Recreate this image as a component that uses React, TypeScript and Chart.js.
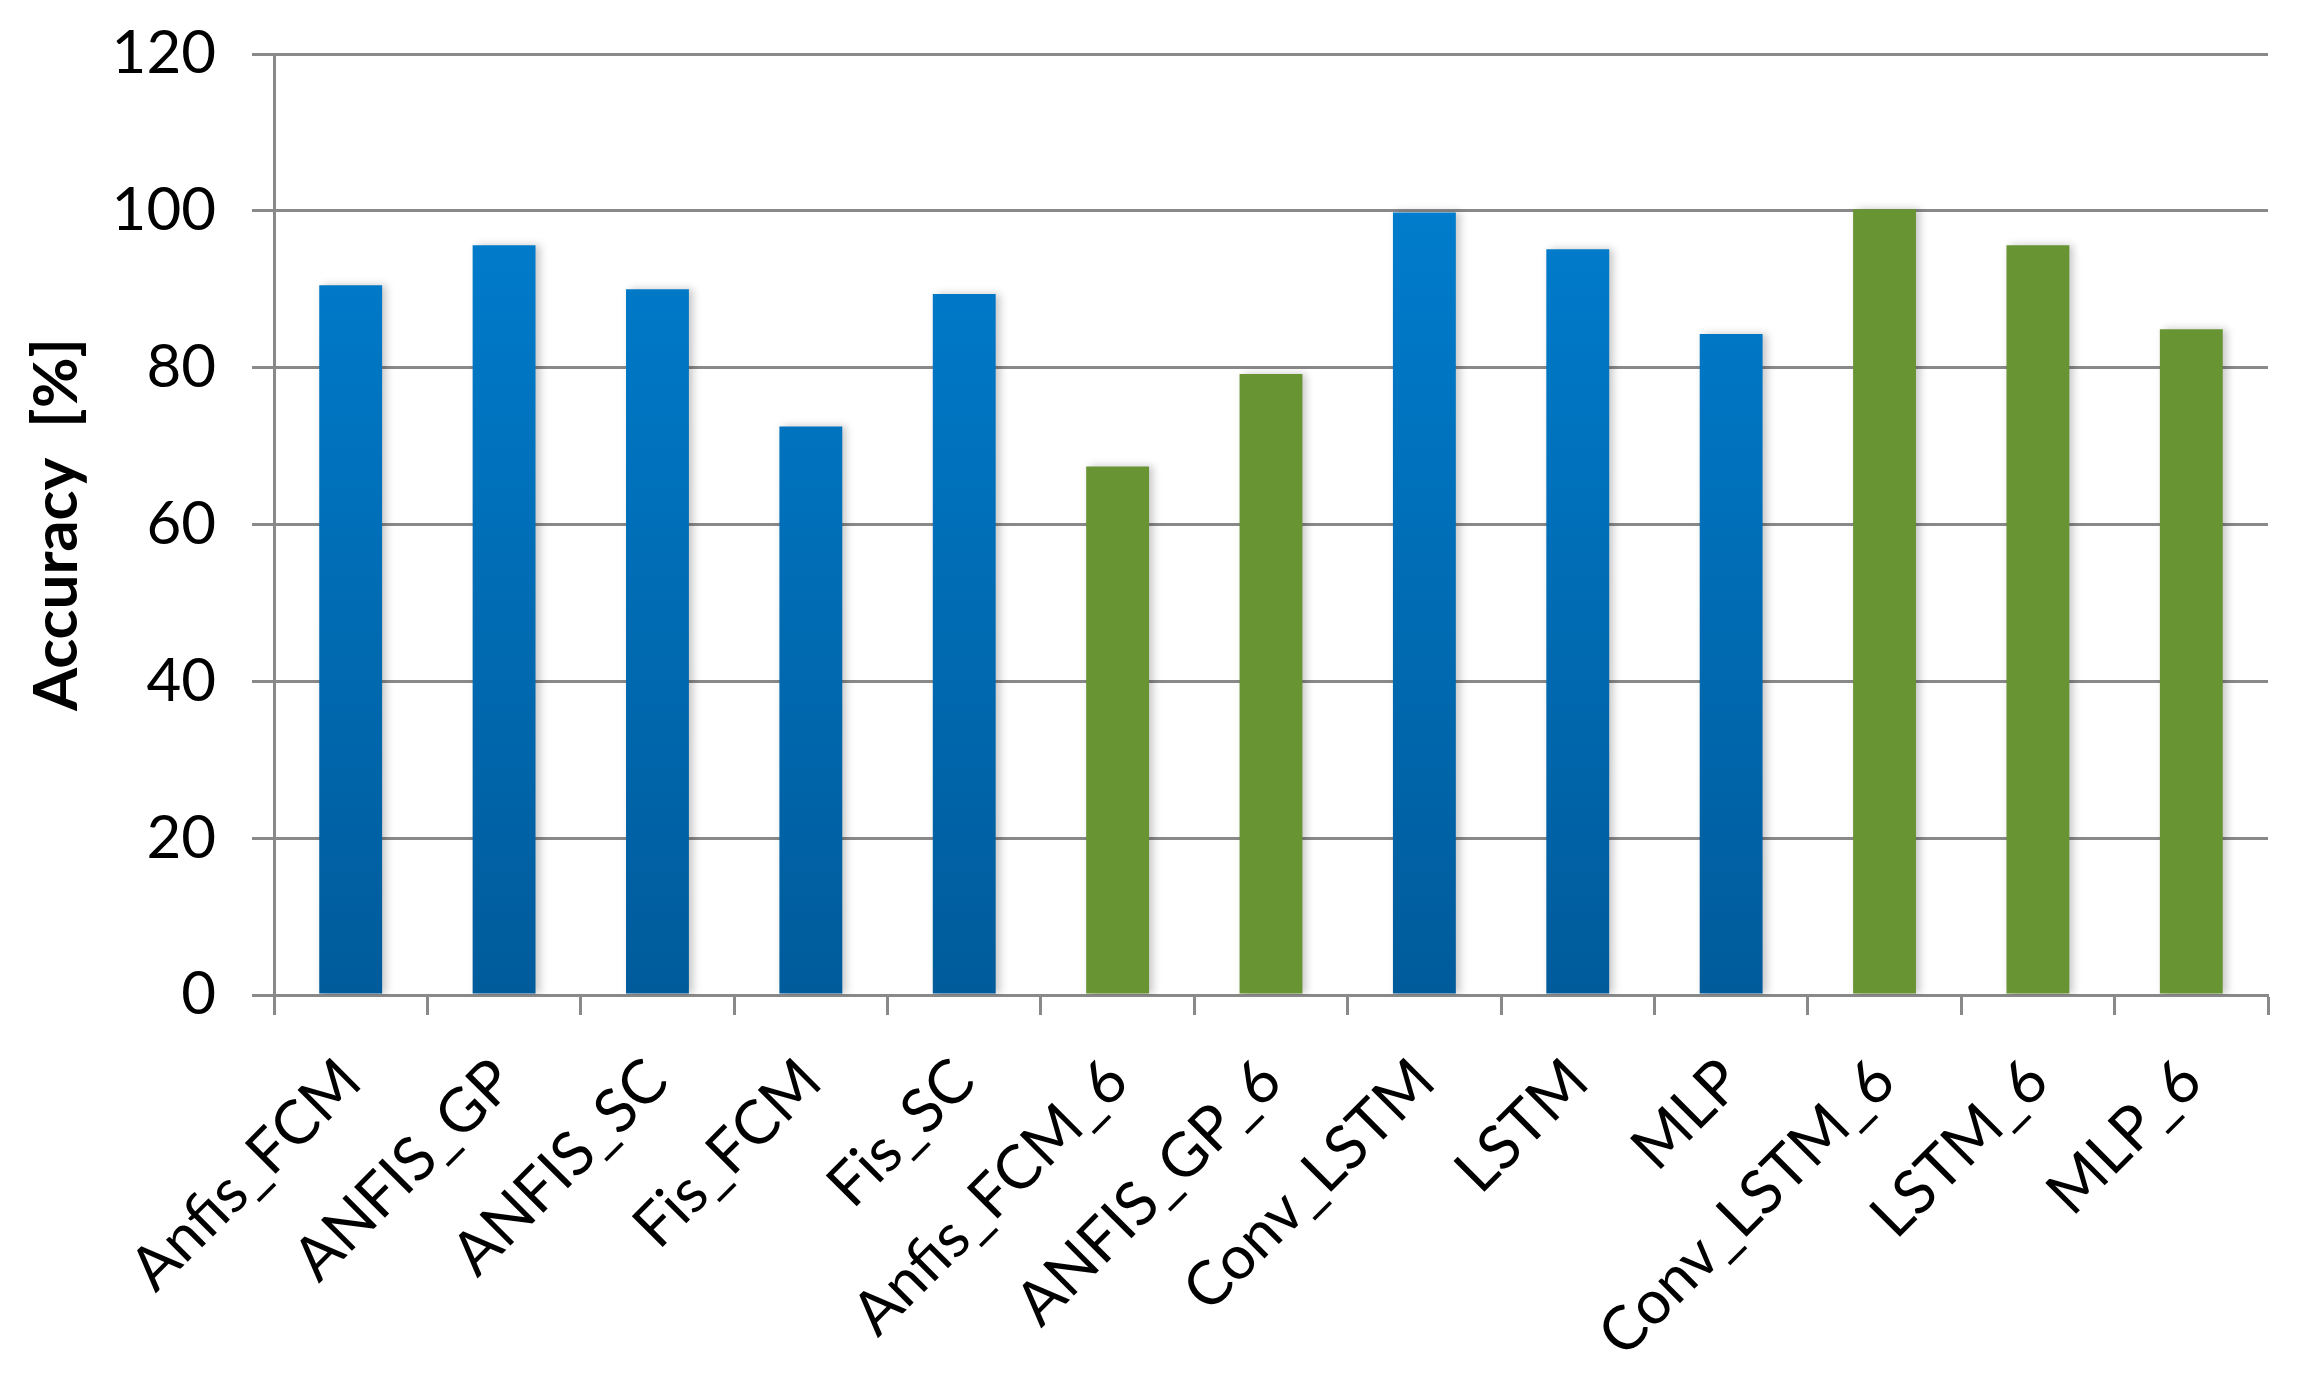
import React, { useEffect, useRef } from "react";
import { Chart, registerables } from "chart.js";

Chart.register(...registerables);

const categories = [
  "Anfis_FCM", "ANFIS_GP", "ANFIS_SC", "Fis_FCM", "Fis_SC", "Anfis_FCM_6", "ANFIS_GP_6",
  "Conv_LSTM", "LSTM", "MLP", "Conv_LSTM_6", "LSTM_6", "MLP_6",
];
const accuracy = [90.5, 95.6, 90.0, 72.5, 89.4, 67.4, 79.2, 99.8, 95.1, 84.3, 100.2, 95.6, 84.9];
const sixFeatureModel = [false, false, false, false, false, true, true, false, false, false, true, true, true];
const yMin = 0;
const yMax = 120;
const yStep = 20;
const yTitle = "Accuracy  [%]";

const W = 2302;
const H = 1377;

const shadowPlugin = {
  id: "barShadow",
  beforeDatasetDraw(chart: any) {
    const ctx = chart.ctx;
    ctx.save();
    ctx.shadowColor = "rgba(0,0,0,0.22)";
    ctx.shadowBlur = 8;
    ctx.shadowOffsetX = 4;
    ctx.shadowOffsetY = 0;
  },
  afterDatasetDraw(chart: any) {
    chart.ctx.restore();
  },
};

export default function App() {
  const ref = useRef<HTMLCanvasElement | null>(null);

  useEffect(() => {
    const canvas = ref.current;
    if (!canvas) return;
    const grid = "#898989";
    const chart = new Chart(canvas, {
      type: "bar",
      data: {
        labels: categories,
        datasets: [
          {
            label: "Accuracy",
            data: accuracy,
            backgroundColor: (c: any) => {
              const idx = c.dataIndex;
              if (sixFeatureModel[idx]) return "#699433";
              const area = c.chart.chartArea;
              if (!area) return "#0074C0";
              const g = c.chart.ctx.createLinearGradient(0, area.bottom, 0, area.top);
              g.addColorStop(0, "#005B9B");
              g.addColorStop(0.83, "#007CCC");
              g.addColorStop(1, "#0080D2");
              return g;
            },
            borderWidth: 0,
            barPercentage: 0.41,
            categoryPercentage: 1,
          },
        ],
      },
      options: {
        responsive: false,
        animation: false,
        devicePixelRatio: 1,
        layout: { padding: { top: 54, right: 34, left: 0, bottom: 0 } },
        plugins: {
          legend: { display: false },
          tooltip: { enabled: false },
        },
        scales: {
          x: {
            offset: true,
            grid: {
              display: true,
              drawOnChartArea: false,
              drawTicks: true,
              tickLength: 20,
              tickWidth: 3,
              tickColor: grid,
              offset: true,
              color: grid,
            },
            border: { display: true, color: grid, width: 3 },
            ticks: {
              autoSkip: false,
              minRotation: 45,
              maxRotation: 45,
              padding: 30,
              color: "#000000",
              font: { family: "Lato", size: 61 },
            },
            afterFit: (scale: any) => {
              scale.height = 382;
              scale.paddingLeft = 0;
              scale.paddingRight = 0;
            },
          },
          y: {
            min: yMin,
            max: yMax,
            ticks: {
              stepSize: yStep,
              padding: 36,
              color: "#000000",
              font: { family: "Lato", size: 60 },
            },
            grid: {
              color: grid,
              lineWidth: 3,
              drawTicks: true,
              tickLength: 22,
              tickColor: grid,
            },
            border: { display: true, color: grid, width: 3 },
            title: {
              display: true,
              text: yTitle,
              color: "#000000",
              font: { family: "Lato", size: 62, weight: "bold" },
              padding: { top: 20, bottom: 0 },
            },
            afterFit: (scale: any) => {
              scale.width = 274;
              scale.paddingTop = 0;
              scale.paddingBottom = 0;
            },
          },
        },
      },
      plugins: [shadowPlugin],
    } as any);
    return () => chart.destroy();
  }, []);

  return (
    <div style={{ position: "fixed", left: 0, top: 0, width: W, height: H, background: "#ffffff" }}>
      <canvas ref={ref} width={W} height={H} style={{ display: "block", width: W, height: H }} />
    </div>
  );
}
